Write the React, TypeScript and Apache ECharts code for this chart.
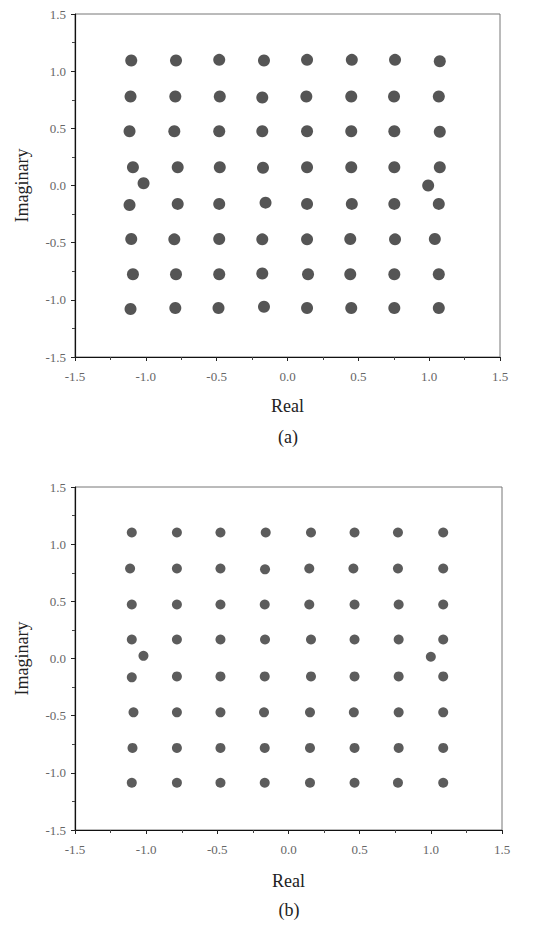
import React, { useEffect, useRef } from "react";
import * as echarts from "echarts";

// Panel (a): cluster centres
const aReal = [
  -1.103, -0.787, -0.482, -0.166, 0.138, 0.454, 0.759, 1.075,
  -1.108, -0.792, -0.478, -0.178, 0.133, 0.450, 0.752, 1.068,
  -1.115, -0.799, -0.482, -0.178, 0.138, 0.450, 0.754, 1.075,
  -1.091, -0.775, -0.478, -0.173, 0.138, 0.450, 0.754, 1.075,
  -1.016, 0.993,
  -1.115, -0.775, -0.482, -0.155, 0.138, 0.454, 0.754, 1.068,
  -1.103, -0.799, -0.482, -0.178, 0.138, 0.443, 0.759, 1.040,
  -1.091, -0.787, -0.482, -0.178, 0.145, 0.443, 0.754, 1.068,
  -1.108, -0.792, -0.487, -0.166, 0.138, 0.450, 0.754, 1.068,
];
const aImag = [
  1.093, 1.093, 1.099, 1.093, 1.099, 1.099, 1.099, 1.087,
  0.778, 0.778, 0.778, 0.770, 0.778, 0.778, 0.778, 0.778,
  0.475, 0.475, 0.475, 0.475, 0.475, 0.475, 0.475, 0.470,
  0.160, 0.160, 0.160, 0.155, 0.160, 0.160, 0.160, 0.160,
  0.020, 0.000,
  -0.170, -0.161, -0.161, -0.150, -0.161, -0.161, -0.161, -0.161,
  -0.468, -0.471, -0.468, -0.471, -0.471, -0.468, -0.471, -0.468,
  -0.776, -0.776, -0.776, -0.770, -0.776, -0.776, -0.776, -0.776,
  -1.080, -1.072, -1.072, -1.060, -1.072, -1.072, -1.072, -1.072,
];

// Panel (b): cluster centres
const bReal = [
  -1.101, -0.784, -0.478, -0.160, 0.158, 0.464, 0.769, 1.087,
  -1.113, -0.784, -0.478, -0.165, 0.146, 0.456, 0.769, 1.087,
  -1.101, -0.784, -0.478, -0.167, 0.146, 0.464, 0.774, 1.087,
  -1.101, -0.784, -0.478, -0.165, 0.158, 0.464, 0.774, 1.087,
  -1.019, 1.000,
  -1.101, -0.784, -0.478, -0.167, 0.158, 0.464, 0.774, 1.087,
  -1.089, -0.784, -0.478, -0.172, 0.151, 0.459, 0.774, 1.087,
  -1.096, -0.784, -0.478, -0.167, 0.151, 0.464, 0.774, 1.087,
  -1.101, -0.784, -0.478, -0.167, 0.151, 0.464, 0.769, 1.087,
];
const bImag = [
  1.102, 1.102, 1.102, 1.102, 1.102, 1.102, 1.102, 1.102,
  0.787, 0.787, 0.787, 0.780, 0.787, 0.787, 0.787, 0.787,
  0.472, 0.472, 0.472, 0.472, 0.472, 0.472, 0.472, 0.472,
  0.166, 0.166, 0.166, 0.166, 0.166, 0.166, 0.166, 0.166,
  0.023, 0.015,
  -0.165, -0.157, -0.157, -0.157, -0.157, -0.157, -0.157, -0.157,
  -0.471, -0.471, -0.471, -0.471, -0.471, -0.471, -0.471, -0.471,
  -0.782, -0.782, -0.782, -0.782, -0.782, -0.782, -0.782, -0.782,
  -1.087, -1.087, -1.087, -1.087, -1.087, -1.087, -1.087, -1.087,
];

const tickLabels = ["-1.5", "-1.0", "-0.5", "0.0", "0.5", "1.0", "1.5"];
const tickValues = [-1.5, -1.0, -0.5, 0.0, 0.5, 1.0, 1.5];
const panelLabels = ["(a)", "(b)"];
const xName = "Real";
const yName = "Imaginary";

const SERIF = "Liberation Serif";

function fmt(v: number): string {
  const i = tickValues.findIndex((t) => Math.abs(t - v) < 1e-6);
  return i >= 0 ? tickLabels[i] : "";
}

function axis(gridIndex: number, isX: boolean, name: string, nameGap: number) {
  return {
    type: "value",
    gridIndex,
    min: -1.5,
    max: 1.5,
    interval: 0.5,
    name,
    nameLocation: "middle",
    nameGap,
    nameTextStyle: { fontFamily: SERIF, fontSize: 18, color: "#222" },
    axisLine: { show: true, onZero: false, lineStyle: { color: "#111", width: 1.2 } },
    axisTick: { show: true, inside: false, length: 4, lineStyle: { color: "#222", width: 1 } },
    minorTick: { show: true, splitNumber: 2, length: 3, lineStyle: { color: "#444", width: 1 } },
    splitLine: { show: false },
    axisLabel: {
      formatter: fmt,
      fontFamily: SERIF,
      fontSize: 13,
      color: "#666",
      margin: isX ? 13 : 9,
    },
  };
}

export default function App() {
  const ref = useRef<HTMLDivElement>(null);
  useEffect(() => {
    if (!ref.current) return;
    const chart = echarts.init(ref.current, null, { renderer: "svg" });
    const aData = aReal.map((x, i) => [x, aImag[i]]);
    const bData = bReal.map((x, i) => [x, bImag[i]]);
    chart.setOption({
      animation: false,
      backgroundColor: "#fff",
      textStyle: { fontFamily: SERIF },
      grid: [
        { left: 75, top: 14, width: 425, height: 343, show: true, borderColor: "#777", borderWidth: 1 },
        { left: 75, top: 487, width: 427, height: 343, show: true, borderColor: "#777", borderWidth: 1 },
      ],
      xAxis: [axis(0, true, xName, 40), axis(1, true, xName, 42)],
      yAxis: [axis(0, false, yName, 44), axis(1, false, yName, 44)],
      series: [
        {
          type: "scatter",
          xAxisIndex: 0,
          yAxisIndex: 0,
          data: aData,
          symbol: "circle",
          symbolSize: 12,
          itemStyle: { color: "#2a2a2a" },
        },
        {
          type: "scatter",
          xAxisIndex: 1,
          yAxisIndex: 1,
          data: bData,
          symbol: "circle",
          symbolSize: 10,
          itemStyle: { color: "#333" },
        },
      ],
      graphic: [
        {
          type: "text",
          x: 288,
          y: 437,
          style: { text: panelLabels[0], fontFamily: SERIF, fontSize: 18, fill: "#222", textAlign: "center", textVerticalAlign: "middle" },
        },
        {
          type: "text",
          x: 289,
          y: 910,
          style: { text: panelLabels[1], fontFamily: SERIF, fontSize: 18, fill: "#222", textAlign: "center", textVerticalAlign: "middle" },
        },
      ],
    });
    return () => chart.dispose();
  }, []);
  return (
    <div
      ref={ref}
      style={{ position: "absolute", left: 0, top: 0, width: 544, height: 928 }}
    />
  );
}
